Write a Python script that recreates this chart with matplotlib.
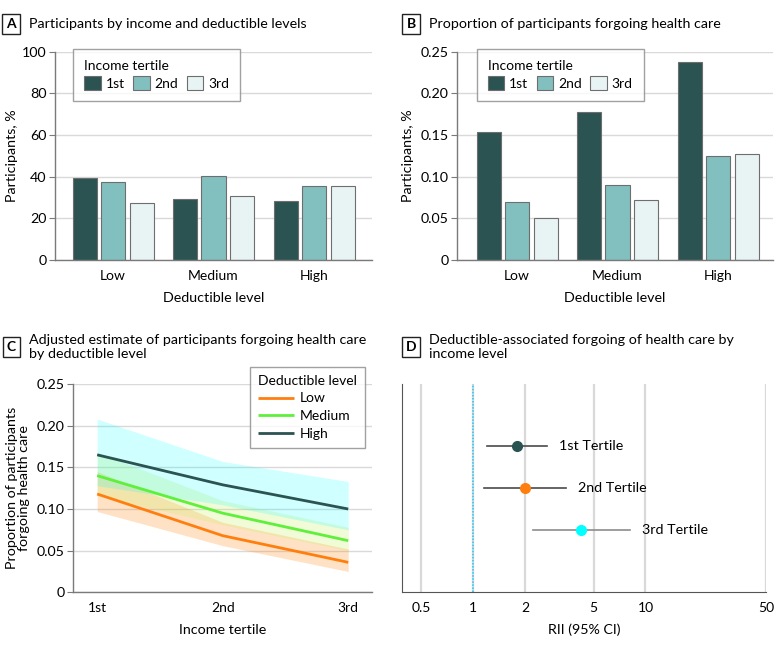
import numpy as np
import matplotlib
matplotlib.use("Agg")
import matplotlib.pyplot as plt
from matplotlib.ticker import FixedLocator, NullLocator

plt.rcParams["font.family"] = ["Lato", "DejaVu Sans"]
plt.rcParams["font.size"] = 10

# ── data ──────────────────────────────────────────────────────────────────────
deductibles = ["Low", "Medium", "High"]
tertiles = ["1st", "2nd", "3rd"]

# panel A: participants, % (one list per income tertile, over deductible levels)
share_1st = [39.2, 29.1, 28.5]
share_2nd = [37.3, 40.2, 35.4]
share_3rd = [27.2, 30.6, 35.8]

# panel B: proportion forgoing care
forgo_1st = [0.154, 0.178, 0.238]
forgo_2nd = [0.070, 0.090, 0.125]
forgo_3rd = [0.051, 0.072, 0.127]

# panel C: adjusted estimates by income tertile
adj_low = [0.118, 0.068, 0.036]
adj_low_lo = [0.097, 0.056, 0.025]
adj_low_hi = [0.145, 0.084, 0.052]
adj_med = [0.140, 0.095, 0.062]
adj_med_lo = [0.116, 0.081, 0.050]
adj_med_hi = [0.168, 0.110, 0.078]
adj_high = [0.165, 0.129, 0.100]
adj_high_lo = [0.128, 0.105, 0.075]
adj_high_hi = [0.208, 0.157, 0.133]

# panel D: RII (95% CI)
rii_labels = ["1st Tertile", "2nd Tertile", "3rd Tertile"]
rii = [1.81, 2.00, 4.25]
rii_lo = [1.20, 1.16, 2.24]
rii_hi = [2.70, 3.45, 8.10]

# ── style ─────────────────────────────────────────────────────────────────────
C1, C2, C3 = "#2B5352", "#82C0BF", "#E8F3F4"
EDGE = "#6E6E6E"
GRID = "#D9D9D9"
SPINE = "#7A7A7A"
FS = 10.0
TFS = 10.3

fig = plt.figure(figsize=(7.8, 6.47), dpi=100, facecolor="white")

ax_a = fig.add_axes([0.0705, 0.598, 0.4065, 0.322])
ax_b = fig.add_axes([0.5855, 0.598, 0.4055, 0.322])
ax_c = fig.add_axes([0.094, 0.0845, 0.383, 0.322])
ax_d = fig.add_axes([0.5155, 0.0845, 0.4665, 0.322])


def panel_title(x, y, letter, text):
    fig.text(x, y, letter, fontsize=10, fontweight="bold", ha="center", va="center",
             bbox=dict(boxstyle="square,pad=0.3", fc="white", ec="#222222", lw=1))
    fig.text(x + 0.0225, y, text, fontsize=TFS, ha="left", va="center", linespacing=1.15)


def base_style(ax):
    for s in ["top", "right"]:
        ax.spines[s].set_visible(False)
    for s in ["left", "bottom"]:
        ax.spines[s].set_color(SPINE)
        ax.spines[s].set_linewidth(1)
    ax.tick_params(axis="y", direction="out", length=4, color=SPINE, labelsize=FS + 0.3, pad=2)
    ax.tick_params(axis="x", length=0, labelsize=FS, pad=7)
    ax.grid(axis="y", color=GRID, lw=1)
    ax.set_axisbelow(True)


def bar_panel(ax, s1, s2, s3, ylim, yticks, yticklabels, xlim, leg_x, ylab_x):
    base_style(ax)
    x = np.arange(len(deductibles))
    w = 0.24
    for off, vals, col, lab in [(-0.28, s1, C1, "1st"), (0.0, s2, C2, "2nd"), (0.285, s3, C3, "3rd")]:
        ax.bar(x + off, vals, w, color=col, edgecolor=EDGE, lw=0.8, label=lab)
    ax.set_xticks(x)
    ax.set_xticklabels(deductibles)
    ax.set_xlim(*xlim)
    ax.set_ylim(*ylim)
    ax.set_yticks(yticks)
    ax.set_yticklabels(yticklabels)
    ax.set_xlabel("Deductible level", fontsize=FS + 0.3, labelpad=7)
    ax.set_ylabel("Participants, %", fontsize=FS + 0.3)
    ax.yaxis.set_label_coords(ylab_x, 0.5)
    leg = ax.legend(title="Income tertile", ncol=3, loc="upper left",
                    bbox_to_anchor=(leg_x, 1.014), borderaxespad=0, frameon=True,
                    fancybox=False, edgecolor="#8A8A8A", fontsize=FS, title_fontsize=FS,
                    handlelength=1.2, handleheight=1.2, handletextpad=0.35,
                    columnspacing=0.6, borderpad=0.8, labelspacing=0.3)
    leg.get_frame().set_linewidth(1)
    leg._legend_box.align = "left"


# ── A ─────────────────────────────────────────────────────────────────────────
bar_panel(ax_a, share_1st, share_2nd, share_3rd, (0, 100), [0, 20, 40, 60, 80, 100],
          ["0", "20", "40", "60", "80", "100"], (-0.577, 2.577), 0.057, -0.117)
panel_title(0.0145, 0.963, "A", "Participants by income and deductible levels")

# ── B ─────────────────────────────────────────────────────────────────────────
bar_panel(ax_b, forgo_1st, forgo_2nd, forgo_3rd, (0, 0.25),
          [0, 0.05, 0.10, 0.15, 0.20, 0.25],
          ["0", "0.05", "0.10", "0.15", "0.20", "0.25"], (-0.6, 2.547), 0.063, -0.135)
panel_title(0.527, 0.963, "B", "Proportion of participants forgoing health care")

# ── C ─────────────────────────────────────────────────────────────────────────
base_style(ax_c)
xc = np.arange(1, len(tertiles) + 1)
series_c = [
    ("Low", adj_low, adj_low_lo, adj_low_hi, "#FF7F0E", "#FF8C1A", 0.25),
    ("Medium", adj_med, adj_med_lo, adj_med_hi, "#5EF03A", "#C8F060", 0.25),
    ("High", adj_high, adj_high_lo, adj_high_hi, C1, "#00FFFF", 0.19),
]
for lab, mid, lo, hi, lc, fc, al in series_c:
    ax_c.fill_between(xc, lo, hi, color=fc, alpha=al, lw=0)
for lab, mid, lo, hi, lc, fc, al in series_c:
    ax_c.plot(xc, mid, color=lc, lw=2, label=lab, solid_capstyle="butt")
ax_c.set_xlim(0.81, 3.19)
ax_c.set_ylim(0, 0.25)
ax_c.set_xticks(xc)
ax_c.set_xticklabels(tertiles)
ax_c.set_yticks([0, 0.05, 0.10, 0.15, 0.20, 0.25])
ax_c.set_yticklabels(["0", "0.05", "0.10", "0.15", "0.20", "0.25"])
ax_c.set_xlabel("Income tertile", fontsize=FS + 0.3, labelpad=7)
ax_c.set_ylabel("Proportion of participants\nforgoing health care", fontsize=FS + 0.3,
                linespacing=1.05)
ax_c.yaxis.set_label_coords(-0.144, 0.5)
leg = ax_c.legend(title="Deductible level", loc="upper right", bbox_to_anchor=(0.975, 1.082),
                  borderaxespad=0, frameon=True, fancybox=False, edgecolor="#8A8A8A",
                  fontsize=FS, title_fontsize=FS, handlelength=2.6, handletextpad=0.4,
                  borderpad=0.55, labelspacing=0.42)
leg.get_frame().set_linewidth(1)
leg._legend_box.align = "left"
panel_title(0.0145, 0.4637, "C",
            "Adjusted estimate of participants forgoing health care\nby deductible level")

# ── D ─────────────────────────────────────────────────────────────────────────
for s in ["top", "right"]:
    ax_d.spines[s].set_visible(False)
for s in ["left", "bottom"]:
    ax_d.spines[s].set_color("#555555")
ax_d.set_xscale("log")
ax_d.set_xlim(0.388, 50)
ax_d.set_ylim(4.5, -0.5)
ticks_d = [0.5, 1, 2, 5, 10, 50]
ax_d.xaxis.set_major_locator(FixedLocator(ticks_d))
ax_d.xaxis.set_minor_locator(NullLocator())
ax_d.set_xticklabels(["0.5", "1", "2", "5", "10", "50"])
ax_d.set_yticks([])
ax_d.tick_params(axis="x", length=0, labelsize=FS, pad=7)
ax_d.grid(axis="x", color=GRID, lw=1.6)
ax_d.set_axisbelow(True)
ax_d.axvline(1, color="#1EC8FF", lw=1.1, ls=(0, (1, 1)), zorder=1)
yd = np.arange(1, len(rii) + 1)
pt_colors = [C1, "#FF7F0E", "#00FFFF"]
ci_colors = ["#4A4A4A", "#4A4A4A", "#8C8C8C"]
for i in range(len(rii)):
    ax_d.plot([rii_lo[i], rii_hi[i]], [yd[i], yd[i]], color=ci_colors[i], lw=1.2, zorder=2)
    ax_d.plot(rii[i], yd[i], "o", color=pt_colors[i], ms=7, zorder=3)
    ax_d.annotate(rii_labels[i], (rii_hi[i], yd[i]), xytext=(12, 0),
                  textcoords="offset pixels", va="center", ha="left", fontsize=FS + 0.3)
ax_d.set_xlabel("RII (95% CI)", fontsize=FS + 0.3, labelpad=7)
panel_title(0.527, 0.4637, "D",
            "Deductible-associated forgoing of health care by\nincome level")

fig.savefig("out.png", dpi=100, facecolor="white")
